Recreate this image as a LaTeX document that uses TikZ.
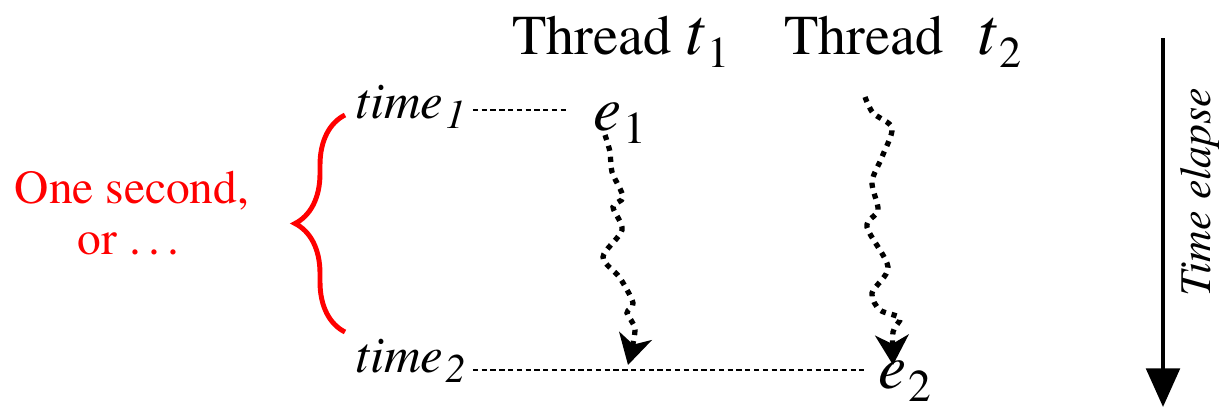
\documentclass[tikz,border=0pt]{standalone}
\usepackage[T1]{fontenc}
\usepackage{mathptmx}
\usetikzlibrary{arrows.meta,decorations.pathreplacing}
\newcommand{\withsub}[3][0.72]{#2\kern0.04em\raisebox{-0.45ex}{\scalebox{#1}{#3}}}
\begin{document}
\begin{tikzpicture}[x=0.02cm, y=-0.02cm,
    thread/.style={font=\fontsize{32}{38}\selectfont},
    timelbl/.style={font=\fontsize{29}{34}\selectfont\itshape, anchor=base west, inner sep=2pt},
    evt/.style={font=\fontsize{36}{40}\selectfont, inner sep=2pt},
    guide/.style={line width=0.6pt, dash pattern=on 3pt off 2pt},
    squiggle/.style={line width=3pt, dash pattern=on 3pt off 3.4pt,
        -{Stealth[length=17pt, width=19pt, inset=5pt]}}]
    \useasboundingbox (0,0) rectangle (1224,409);

    % Threads
    \node[thread] (th1) at (621,42) {Thread {\fontsize{38}{40}\selectfont\withsub[0.66]{\textit{t}}{1}}};
    \node[thread] (th2) at (903,42) {Thread\hspace{0.6em}{\fontsize{38}{40}\selectfont\withsub[0.66]{\textit{t}}{2}}};

    % Time points and events
    \node[timelbl] (tm1) at (352,118) {\withsub[0.8]{time}{1}};
    \node[timelbl] (tm2) at (352,372) {\withsub[0.8]{time}{2}};
    \node[evt] (e1) at (620,123) {\withsub{\textit{e}}{1}};
    \node[evt] (e2) at (905,381) {\withsub{\textit{e}}{2}};
    \draw[guide, shorten >=12pt] ([shift={(3,-8)}]tm1.base east) coordinate (g1) -- (g1 -| e1.west);
    \draw[guide, shorten >=6pt] ([shift={(3,-2)}]tm2.base east) coordinate (g2) -- (g2 -| e2.west);

    % Wavy paths of the threads
    \coordinate (a1) at (605,135);
    \coordinate (b1) at (628,365);
    \draw[squiggle] plot[smooth, tension=0.5] coordinates {(a1) (610,152) (612,172) (623,197)
        (613,207) (622,230) (603,257) (620,278) (633,303) (627,313) (635,330) (b1)};
    \coordinate (a2) at (865,97);
    \coordinate (b2) at (893,365);
    \draw[squiggle] plot[smooth, tension=0.5] coordinates {(a2) (873,113) (892,128) (882,157)
        (872,182) (878,210) (867,227) (888,267) (872,293) (880,310) (900,318) (893,332) (b2)};

    % Interval
    \draw[red, line width=2.8pt, decorate, decoration={brace, amplitude=1cm}] (345,332) -- (345,115);
    \node[red, align=center, font=\fontsize{27}{29}\selectfont] (sec) at (132,213) {One second,\\or \dots};

    % Time axis
    \coordinate (ta) at (1163,38);
    \coordinate (tb) at (1163,407);
    \draw[line width=2.5pt, -{Triangle[length=22pt, width=19pt]}] (ta) -- (tb);
    \node[rotate=90, font=\fontsize{25}{30}\selectfont\itshape] (el) at (1200,192) {Time elapse};
\end{tikzpicture}
\end{document}
